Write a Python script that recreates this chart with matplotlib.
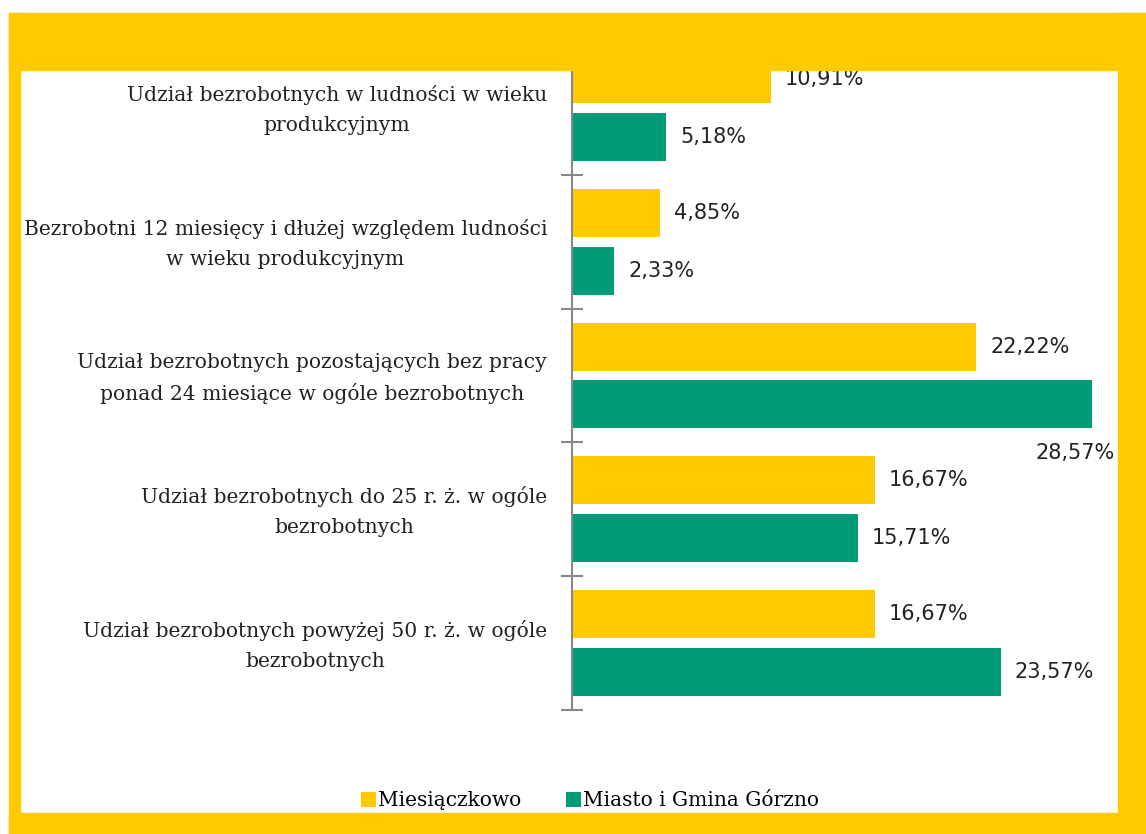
import numpy as np
import matplotlib.pyplot as plt
from matplotlib.patches import Rectangle
from matplotlib.transforms import ScaledTranslation

# dane
kategorie = ['Udział bezrobotnych w ludności w wieku\nprodukcyjnym',
             'Bezrobotni 12 miesięcy i dłużej względem ludności\nw wieku produkcyjnym',
             'Udział bezrobotnych pozostających bez pracy\nponad 24 miesiące w ogóle bezrobotnych',
             'Udział bezrobotnych do 25 r. ż. w ogóle\nbezrobotnych',
             'Udział bezrobotnych powyżej 50 r. ż. w ogóle\nbezrobotnych']
miesiaczkowo = [10.91, 4.85, 22.22, 16.67, 16.67]
gorzno = [5.18, 2.33, 28.57, 15.71, 23.57]
serie = ['Miesiączkowo', 'Miasto i Gmina Górzno']

zolty = '#FFCA00'
zielony = '#009B77'
W, H = 1146, 834

fig = plt.figure(figsize=(W / 100, H / 100), dpi=100)
ax = fig.add_axes([572 / W, 1 - 710 / H, (1118 - 572) / W, (710 - 41) / H])

y = np.arange(len(kategorie))
h = 0.358
off = 0.216
b1 = ax.barh(y - off, miesiaczkowo, height=h, color=zolty, label=serie[0])
b2 = ax.barh(y + off, gorzno, height=h, color=zielony, label=serie[1])

ax.set_xlim(0, 30)
ax.set_ylim(len(kategorie) - 0.5, -0.5)
ax.set_yticks(np.arange(len(kategorie) + 1) - 0.5, minor=False)
ax.set_yticklabels([])
ax.set_yticks(y, minor=True)
ax.set_yticklabels(kategorie, minor=True, fontfamily='DejaVu Serif', fontsize=14.6,
                   multialignment='center', linespacing=1.7, color='#222222')
ax.tick_params(axis='y', which='minor', length=0, pad=18)
ax.tick_params(axis='y', which='major', direction='inout', length=16, width=1.5, color='#888888')
# etykiety kategorii lekko w górę
for lbl in ax.get_yticklabels(minor=True):
    lbl.set_transform(lbl.get_transform() + ScaledTranslation(0, 5 / 100, fig.dpi_scale_trans))
ax.set_xticks([])
for s in ['top', 'right', 'bottom']:
    ax.spines[s].set_visible(False)
ax.spines['left'].set_color('#888888')
ax.spines['left'].set_linewidth(1.5)


def fmt(v):
    return ('%.2f%%' % v).replace('.', ',')


for rects, vals in [(b1, miesiaczkowo), (b2, gorzno)]:
    for r, v in zip(rects, vals):
        cy = r.get_y() + r.get_height() / 2
        if v > 27:
            ax.text(29.8, cy + 0.36, fmt(v), ha='right', va='center', fontsize=15,
                    color='#222222', clip_on=False)
        else:
            ax.text(v + 0.75, cy, fmt(v), ha='left', va='center', fontsize=15,
                    color='#222222', clip_on=False)

leg = fig.legend(handles=[b1, b2], labels=serie, loc='center', ncol=2,
                 bbox_to_anchor=(590 / W, 1 - 801 / H), frameon=False,
                 prop={'family': 'DejaVu Serif', 'size': 14.5},
                 handlelength=0.75, handleheight=0.75, handletextpad=0.1, columnspacing=2.2)

# żółta ramka
ramki = [(9, 13, W - 9, 57), (9, 13, 11, H - 13), (1118, 13, W - 1118, H - 13), (9, 813, W - 9, H - 813)]
for x0, y0, w, hh in ramki:
    fig.patches.append(Rectangle((x0 / W, 1 - (y0 + hh) / H), w / W, hh / H,
                                 transform=fig.transFigure, color=zolty, zorder=10))

fig.savefig('out.png', dpi=100)
